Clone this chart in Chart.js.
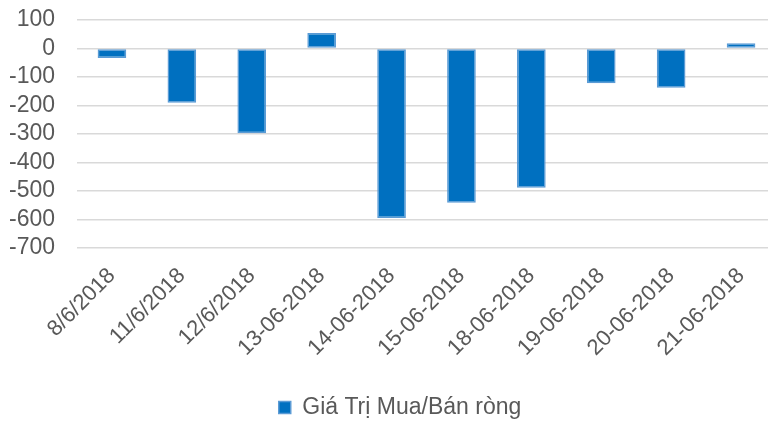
<!DOCTYPE html>
<html>
<head>
<meta charset="utf-8">
<script src="https://cdn.jsdelivr.net/npm/chart.js@4"></script>
<style>
  html, body { margin: 0; padding: 0; background: #fff; overflow: hidden; }
  #wrap { width: 768px; height: 422px; overflow: hidden; }
</style>
</head>
<body>
<div id="wrap"><canvas id="myChart" width="776" height="422"></canvas></div>
<script>
const days = [
  "8/6/2018", "11/6/2018", "12/6/2018", "13-06-2018", "14-06-2018",
  "15-06-2018", "18-06-2018", "19-06-2018", "20-06-2018", "21-06-2018"
];
const netValues = [-33, -190, -297, 54, -595, -541, -489, -122, -138, 18];
const seriesName = "Giá Trị Mua/Bán ròng";
const yMin = -700;
const yMax = 100;
const yStep = 100;

Chart.defaults.font.family = '"Liberation Sans", Arial, sans-serif';
Chart.defaults.color = "#595959";

// nudge the legend a bit right and down, like in the excel picture
const legendShift = {
  id: "legendShift",
  afterLayout(chart) {
    if (chart.legend) {
      chart.legend.left += 12;
      chart.legend.right += 12;
      chart.legend.top += 7;
      chart.legend.bottom += 7;
    }
  },
};

const ctx = document.getElementById("myChart");
const myChart = new Chart(ctx, {
  type: "bar",
  data: {
    labels: days,
    datasets: [
      {
        label: seriesName,
        data: netValues,
        backgroundColor: "#0070c0",
        borderColor: "#5b9bd5",
        borderWidth: 1.5,
        borderSkipped: false,
        barPercentage: 0.41,
        categoryPercentage: 1,
      },
    ],
  },
  options: {
    responsive: false,
    animation: false,
    layout: {
      padding: { left: 0, right: 0, top: 20, bottom: 0 },
    },
    plugins: {
      legend: {
        position: "bottom",
        labels: {
          boxWidth: 12,
          boxHeight: 12,
          padding: 0,
          font: { size: 23 },
          color: "#595959",
        },
      },
      tooltip: { enabled: false },
    },
    scales: {
      x: {
        grid: { display: false, drawTicks: false },
        border: { display: false },
        ticks: {
          autoSkip: false,
          minRotation: 45,
          maxRotation: 45,
          padding: 15,
          font: { size: 22 },
          color: "#595959",
        },
        afterFit: function (axis) {
          axis.height = 141;
        },
      },
      y: {
        min: yMin,
        max: yMax,
        grid: {
          color: "#d9d9d9",
          lineWidth: 1.5,
          drawTicks: true,
          tickLength: 22,
          tickColor: "rgba(0,0,0,0)",
        },
        border: { display: false },
        ticks: {
          autoSkip: false,
          stepSize: yStep,
          padding: 0,
          font: { size: 23 },
          color: "#595959",
        },
        afterFit: function (axis) {
          axis.width = 77;
        },
      },
    },
  },
  plugins: [legendShift],
});
</script>
</body>
</html>
